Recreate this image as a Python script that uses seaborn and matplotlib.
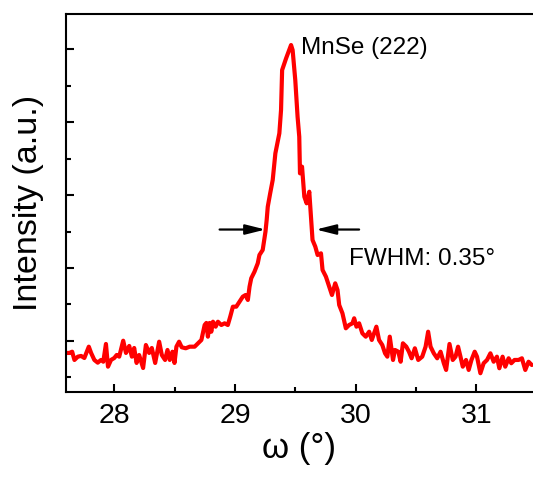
import numpy as np
import pandas as pd
import matplotlib
matplotlib.use("Agg")
import matplotlib.pyplot as plt
import seaborn as sns

# -------------------------
# Data
# -------------------------
omega = [
    27.601, 27.628, 27.651, 27.670, 27.698, 27.725, 27.752, 27.789, 27.808, 27.835,
    27.863, 27.890, 27.909, 27.931, 27.948, 27.973, 28.000, 28.020, 28.041, 28.074,
    28.097, 28.124, 28.146, 28.165, 28.185, 28.206, 28.239, 28.262, 28.289, 28.311,
    28.339, 28.372, 28.394, 28.421, 28.441, 28.460, 28.482, 28.499, 28.515, 28.537,
    28.559, 28.592, 28.625, 28.666, 28.694, 28.722, 28.749, 28.763, 28.776, 28.790,
    28.804, 28.818, 28.840, 28.859, 28.887, 28.914, 28.941, 28.961, 28.983, 29.011,
    29.038, 29.065, 29.088, 29.107, 29.121, 29.135, 29.162, 29.189, 29.203, 29.230,
    29.253, 29.263, 29.272, 29.292, 29.313, 29.335, 29.368, 29.382, 29.391, 29.424,
    29.465, 29.478, 29.500, 29.519, 29.533, 29.539, 29.556, 29.575, 29.594, 29.616,
    29.630, 29.643, 29.666, 29.685, 29.713, 29.726, 29.754, 29.781, 29.804, 29.831,
    29.850, 29.864, 29.891, 29.919, 29.946, 29.974, 29.988, 30.007, 30.029, 30.056,
    30.084, 30.112, 30.134, 30.153, 30.172, 30.194, 30.221, 30.244, 30.263, 30.283,
    30.310, 30.326, 30.354, 30.373, 30.392, 30.420, 30.442, 30.464, 30.491, 30.519,
    30.552, 30.580, 30.601, 30.621, 30.648, 30.676, 30.704, 30.731, 30.750, 30.778,
    30.805, 30.828, 30.849, 30.869, 30.888, 30.915, 30.937, 30.960, 30.987, 31.006,
    31.034, 31.061, 31.089, 31.117, 31.144, 31.171, 31.191, 31.218, 31.240, 31.268,
    31.290, 31.317, 31.350, 31.378, 31.406, 31.433, 31.460,
]
intensity = [
    836, 836, 853, 740, 785, 795, 767, 922, 836, 740,
    703, 740, 716, 959, 648, 740, 767, 808, 785, 1004,
    836, 932, 785, 904, 699, 808, 630, 945, 836, 904,
    699, 990, 808, 740, 877, 740, 853, 699, 922, 990,
    914, 900, 922, 922, 968, 1014, 1219, 1247, 1059, 1247,
    1127, 1264, 1196, 1264, 1219, 1242, 1219, 1333, 1470, 1470,
    1538, 1607, 1630, 1562, 1744, 1859, 1949, 2064, 2178, 2247,
    2497, 2658, 2840, 3023, 3206, 3571, 3845, 4164, 4712, 4873,
    5055, 4986, 4575, 4073, 3799, 3297, 3388, 2977, 2886, 3045,
    2703, 2384, 2292, 2178, 2201, 1973, 1881, 1744, 1630, 1790,
    1699, 1493, 1379, 1174, 1219, 1242, 1311, 1196, 1242, 1105,
    1059, 1127, 1014, 1105, 1196, 1014, 945, 831, 785, 1059,
    740, 877, 853, 716, 968, 922, 853, 763, 900, 740,
    785, 922, 1127, 922, 831, 763, 853, 695, 603, 959,
    740, 785, 922, 785, 648, 740, 603, 740, 853, 785,
    558, 695, 740, 831, 716, 785, 626, 785, 648, 763,
    695, 740, 740, 763, 603, 716, 671,
]

x_ticks = [28, 29, 30, 31]
y_ticks = [1000, 2000, 3000, 4000, 5000]

peak_label = "MnSe (222)"
fwhm_label = "FWHM: 0.35°"
fwhm_level = 2527
fwhm_left = (28.873, 29.253)    # tail, tip
fwhm_right = (30.029, 29.671)   # tail, tip

df = pd.DataFrame({"omega": omega, "intensity": intensity})

# -------------------------
# Style
# -------------------------
sns.set_style("ticks")
plt.rcParams["font.family"] = ["Liberation Sans", "DejaVu Sans"]
plt.rcParams["axes.linewidth"] = 1.5
for key in ["text.color", "axes.labelcolor", "xtick.color", "ytick.color",
            "axes.edgecolor"]:
    plt.rcParams[key] = "black"

fig = plt.figure(figsize=(5.33, 4.78), dpi=100)
ax = fig.add_axes([66 / 533, 1 - 392 / 478, 1 - 66 / 533, (392 - 14) / 478])

sns.lineplot(data=df, x="omega", y="intensity", ax=ax, color="#ff0000",
             linewidth=3.0, estimator=None, sort=False)

ax.set_xlim(27.6, 31.47)
ax.set_ylim(301, 5480)
ax.set_xticks(x_ticks)
ax.set_xticks(np.arange(28.5, 31.5, 1.0), minor=True)
ax.set_yticks(y_ticks)
ax.set_yticks(np.arange(500, 5500, 1000), minor=True)
ax.set_yticklabels([])

ax.tick_params(which="both", direction="in", color="black", width=1.5)
ax.tick_params(which="major", length=6)
ax.tick_params(which="minor", length=3.5)
ax.tick_params(axis="x", labelsize=20.5, pad=8, labelcolor="black")
ax.spines["right"].set_visible(False)

ax.set_xlabel("ω (°)", fontsize=25, labelpad=2)
ax.set_ylabel("Intensity (a.u.)", fontsize=24.5, labelpad=12)

# -------------------------
# Annotations
# -------------------------
ax.text(29.548, 4932, peak_label, fontsize=17.5, ha="left", va="baseline")
ax.text(29.946, 2041, fwhm_label, fontsize=17.5, ha="left", va="baseline")

arrow = dict(arrowstyle="-|>,head_length=0.6,head_width=0.15", color="black",
             lw=1.6, mutation_scale=20, shrinkA=0, shrinkB=0)
ax.annotate("", xy=(fwhm_left[1], fwhm_level), xytext=(fwhm_left[0], fwhm_level),
            arrowprops=arrow)
ax.annotate("", xy=(fwhm_right[1], fwhm_level), xytext=(fwhm_right[0], fwhm_level),
            arrowprops=arrow)

plt.savefig("out.png", dpi=100)
plt.close()
